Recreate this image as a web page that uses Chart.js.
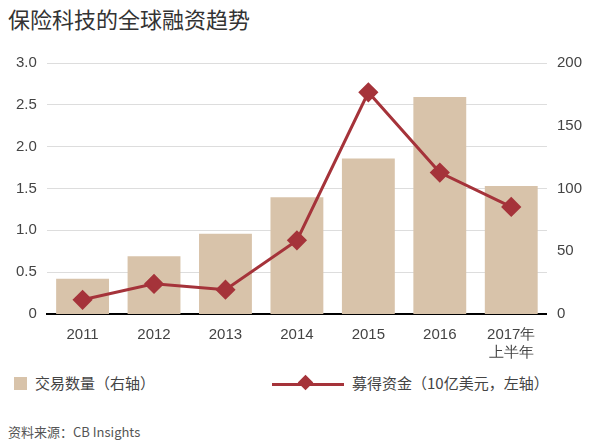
<!DOCTYPE html>
<html><head><meta charset="utf-8">
<script src="https://cdn.jsdelivr.net/npm/chart.js@4"></script>
<style>
body{margin:0;width:596px;height:442px;background:#fff;font-family:"Noto Sans CJK SC","Noto Sans",sans-serif;position:relative;overflow:hidden}
#t{position:absolute;left:8px;top:2px;font-size:22px;color:#333}
#c{position:absolute;left:0;top:44px;width:596px;height:322px}
.lg{position:absolute;top:372px;font-size:15px;color:#444}
#src{position:absolute;left:8px;top:422px;font-size:13px;color:#555}
</style></head><body>
<div id="t">保险科技的全球融资趋势</div>
<div id="c"><canvas id="cv"></canvas></div>
<div class="lg" style="left:14px"><span style="display:inline-block;width:13px;height:13px;background:#d8c3aa;vertical-align:-1px;margin-right:8px"></span>交易数量（右轴）</div>
<div class="lg" style="left:272px"><span style="display:inline-block;position:relative;width:72px;height:14px;vertical-align:-2px;margin-right:8px"><span style="position:absolute;left:0;top:6px;width:72px;height:3px;background:#a5333a"></span><span style="position:absolute;left:28px;top:0;width:11px;height:11px;background:#a5333a;transform:rotate(45deg)"></span></span>募得资金（10亿美元，左轴）</div>
<div id="src">资料来源：CB Insights</div>
<script>
const categories=["2011","2012","2013","2014","2015","2016",["2017年","上半年"]];
const deals=[28,46,64,93,124,173,102];
const funding=[0.17,0.36,0.29,0.88,2.65,1.69,1.28];
const leftTicks=[0,0.5,1.0,1.5,2.0,2.5,3.0];
new Chart(document.getElementById('cv'),{
data:{labels:categories,datasets:[
{type:'line',data:funding,yAxisID:'y',borderColor:'#a5333a',backgroundColor:'#a5333a',borderWidth:3,pointStyle:'rectRot',pointRadius:8,pointHoverRadius:8,order:0},
{type:'bar',data:deals,yAxisID:'y1',backgroundColor:'#d8c3aa',categoryPercentage:0.74,barPercentage:1,order:1}
]},
options:{responsive:true,maintainAspectRatio:false,animation:false,
layout:{padding:{left:6,right:4,top:10,bottom:0}},
plugins:{legend:{display:false},tooltip:{enabled:false}},
scales:{
x:{grid:{display:false},border:{color:'#000',width:2},ticks:{color:'#444',font:{size:15},padding:4}},
y:{position:'left',min:0,max:3,afterBuildTicks:a=>{a.ticks=leftTicks.map(v=>({value:v}))},grid:{color:'#ddd',drawTicks:false},border:{display:false},ticks:{color:'#444',font:{size:15},padding:10,callback:v=>v===0?'0':v.toFixed(1)}},
y1:{position:'right',min:0,max:200,ticks:{stepSize:50,color:'#444',font:{size:15},padding:10},grid:{display:false,drawTicks:false},border:{display:false}}
}}});
</script>
</body></html>
